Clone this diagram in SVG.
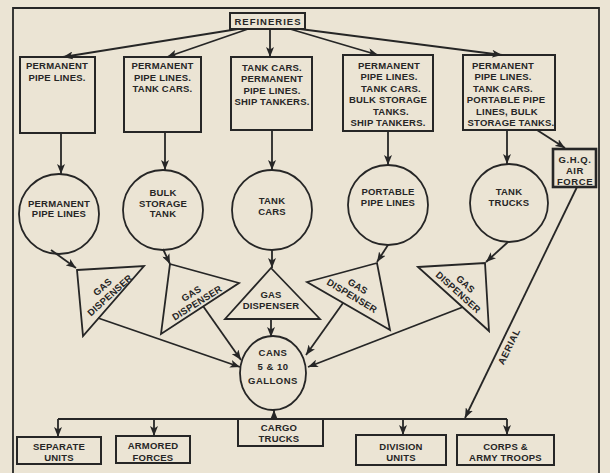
<svg xmlns="http://www.w3.org/2000/svg" width="610" height="473" viewBox="0 0 610 473">
<defs>
<marker id="ah" markerUnits="userSpaceOnUse" markerWidth="10" markerHeight="8" refX="10" refY="4" orient="auto">
<path d="M0,0 L10,4 L0,8 L2.5,4 Z" fill="#262626"/>
</marker>
<style>
.bx{fill:none;stroke:#262626;stroke-width:2}
.sh{fill:none;stroke:#262626;stroke-width:1.8}
.ln{fill:none;stroke:#262626;stroke-width:1.8}
.ar{fill:none;stroke:#262626;stroke-width:1.8;marker-end:url(#ah)}
.t{font-family:"Liberation Sans",Arial,sans-serif;font-weight:bold;font-size:9.5px;letter-spacing:0.2px;fill:#262626;text-anchor:middle}
.c{font-size:9.5px;letter-spacing:0.5px}
</style>
</defs>
<rect width="610" height="473" fill="#ebe4d4"/>
<path d="M13,480 V8 H599 V480" class="ln"/>

<g id="refineries">
<rect x="230" y="13" width="75" height="16" class="bx"/>
<text x="268" y="24.5" class="t" style="letter-spacing:1px">REFINERIES</text>
</g>

<g id="box1">
<rect x="20" y="57" width="75" height="76" class="bx"/>
<text x="57" y="68.5" class="t">PERMANENT</text>
<text x="57" y="80.5" class="t">PIPE LINES.</text>
</g>
<g id="box2">
<rect x="124" y="57" width="77" height="75" class="bx"/>
<text x="162.5" y="68.5" class="t">PERMANENT</text>
<text x="162.5" y="80.5" class="t">PIPE LINES.</text>
<text x="162.5" y="92" class="t">TANK CARS.</text>
</g>
<g id="box3">
<rect x="231" y="57" width="81" height="73" class="bx"/>
<text x="272" y="70.5" class="t">TANK CARS.</text>
<text x="272" y="82" class="t">PERMANENT</text>
<text x="272" y="93.5" class="t">PIPE LINES.</text>
<text x="272" y="105" class="t">SHIP TANKERS.</text>
</g>
<g id="box4">
<rect x="343" y="55" width="90" height="76" class="bx"/>
<text x="389" y="68.5" class="t">PERMANENT</text>
<text x="389" y="80" class="t">PIPE LINES.</text>
<text x="391" y="91.5" class="t">TANK CARS.</text>
<text x="388" y="103" class="t">BULK STORAGE</text>
<text x="391" y="114.5" class="t">TANKS.</text>
<text x="388" y="126" class="t">SHIP TANKERS.</text>
</g>
<g id="box5">
<rect x="463" y="55" width="92" height="75" class="bx"/>
<text x="503" y="68.5" class="t">PERMANENT</text>
<text x="503" y="80" class="t">PIPE LINES.</text>
<text x="503" y="91.5" class="t">TANK CARS.</text>
<text x="506" y="103" class="t">PORTABLE PIPE</text>
<text x="507" y="114.5" class="t">LINES, BULK</text>
<text x="511" y="126" class="t">STORAGE TANKS.</text>
</g>
<g id="ghq">
<rect x="553" y="149" width="43" height="38" fill="none" stroke="#262626" stroke-width="2.6"/>
<text x="575" y="162.5" class="t" style="letter-spacing:0.6px">G.H.Q.</text>
<text x="575" y="173.5" class="t" style="letter-spacing:0.6px">AIR</text>
<text x="575" y="184.5" class="t" style="letter-spacing:0.6px">FORCE</text>
</g>

<g id="c1">
<circle cx="59" cy="214" r="40" class="sh"/>
<text x="59" y="206.5" class="t">PERMANENT</text>
<text x="59" y="217" class="t">PIPE LINES</text>
</g>
<g id="c2">
<circle cx="163" cy="210" r="40" class="sh"/>
<text x="163" y="195.5" class="t">BULK</text>
<text x="163" y="206.5" class="t">STORAGE</text>
<text x="163" y="217" class="t">TANK</text>
</g>
<g id="c3">
<circle cx="272" cy="210" r="40" class="sh"/>
<text x="272" y="204" class="t">TANK</text>
<text x="272" y="215" class="t">CARS</text>
</g>
<g id="c4">
<circle cx="388" cy="205" r="40" class="sh"/>
<text x="388" y="194.5" class="t">PORTABLE</text>
<text x="388" y="205.5" class="t">PIPE LINES</text>
</g>
<g id="c5">
<circle cx="509" cy="203" r="39" class="sh"/>
<text x="509" y="194.5" class="t">TANK</text>
<text x="509" y="205.5" class="t">TRUCKS</text>
</g>

<g id="t1">
<polygon points="77,270 144,266 83,336" class="sh"/>
<g transform="translate(106,291) rotate(-42)">
<text x="0" y="-2" class="t">GAS</text>
<text x="0" y="9" class="t">DISPENSER</text>
</g>
</g>
<g id="t2">
<polygon points="170,264 239,283 161,334" class="sh"/>
<g transform="translate(194,298) rotate(-32)">
<text x="0" y="-2" class="t">GAS</text>
<text x="0" y="9" class="t">DISPENSER</text>
</g>
</g>
<g id="t3">
<polygon points="271,268 320,319 225,319" class="sh"/>
<text x="271" y="297.5" class="t">GAS</text>
<text x="271" y="308.5" class="t">DISPENSER</text>
</g>
<g id="t4">
<polygon points="307,282 377,263 390,330" class="sh"/>
<g transform="translate(355,291) rotate(31)">
<text x="0" y="-2" class="t">GAS</text>
<text x="0" y="9" class="t">DISPENSER</text>
</g>
</g>
<g id="t5">
<polygon points="418,267 485,263 489,331" class="sh"/>
<g transform="translate(462,288) rotate(42)">
<text x="0" y="-2" class="t">GAS</text>
<text x="0" y="9" class="t">DISPENSER</text>
</g>
</g>

<g id="cans">
<ellipse cx="273" cy="373" rx="33" ry="37" class="sh"/>
<text x="273" y="355.5" class="t c">CANS</text>
<text x="273" y="370" class="t c">5 &amp; 10</text>
<text x="273" y="384" class="t c">GALLONS</text>
</g>

<g id="separate">
<rect x="17" y="437" width="84" height="27" class="bx"/>
<text x="59" y="449.5" class="t">SEPARATE</text>
<text x="59" y="461" class="t">UNITS</text>
</g>
<g id="armored">
<rect x="116" y="436" width="74" height="27" class="bx"/>
<text x="153" y="448.5" class="t">ARMORED</text>
<text x="153" y="460.5" class="t">FORCES</text>
</g>
<g id="cargo">
<rect x="238" y="419" width="85" height="27" class="bx"/>
<text x="279" y="430.5" class="t">CARGO</text>
<text x="279" y="441.5" class="t">TRUCKS</text>
</g>
<g id="division">
<rect x="356" y="435" width="90" height="30" class="bx"/>
<text x="401" y="449.5" class="t">DIVISION</text>
<text x="401" y="460.5" class="t">UNITS</text>
</g>
<g id="corps">
<rect x="457" y="435" width="97" height="30" class="bx"/>
<text x="505.5" y="449.5" class="t">CORPS &amp;</text>
<text x="505.5" y="460.5" class="t">ARMY TROOPS</text>
</g>

<g id="connectors">
<path d="M238,29 L63,57" class="ar"/>
<path d="M248,29 L167,57" class="ar"/>
<path d="M270,29 L270,57" class="ar"/>
<path d="M290,29 L378,55" class="ar"/>
<path d="M300,29 L502,55" class="ar"/>
<path d="M61,133 L61,174" class="ar"/>
<path d="M165,132 L165,170" class="ar"/>
<path d="M272,130 L272,170" class="ar"/>
<path d="M388,131 L388,165" class="ar"/>
<path d="M507,130 L507,164" class="ar"/>
<path d="M537,130 L565,148" class="ar"/>
<path d="M51,250 L76,268" class="ar"/>
<path d="M163,249 L170,264" class="ar"/>
<path d="M272,250 L272,268" class="ar"/>
<path d="M388,245 L377,262" class="ar"/>
<path d="M508,242 L486,262" class="ar"/>
<path d="M98,318 L240,367" class="ar"/>
<path d="M203,306 L241,360" class="ar"/>
<path d="M271,319 L271,337" class="ar"/>
<path d="M343,303 L306,355" class="ar"/>
<path d="M463,307 L308,367" class="ar"/>
<path d="M577,187 L465,418" class="ar"/>
<path d="M58,419 H507" class="ln"/>
<path d="M58,419 V437" class="ar"/>
<path d="M154,419 V436" class="ar"/>
<path d="M403,419 V435" class="ar"/>
<path d="M507,419 V435" class="ar"/>
<path d="M274,419 V410" class="ar"/>
<text x="0" y="0" class="t" style="letter-spacing:0.6px" transform="translate(512,348) rotate(-64)">AERIAL</text>
</g>
</svg>
